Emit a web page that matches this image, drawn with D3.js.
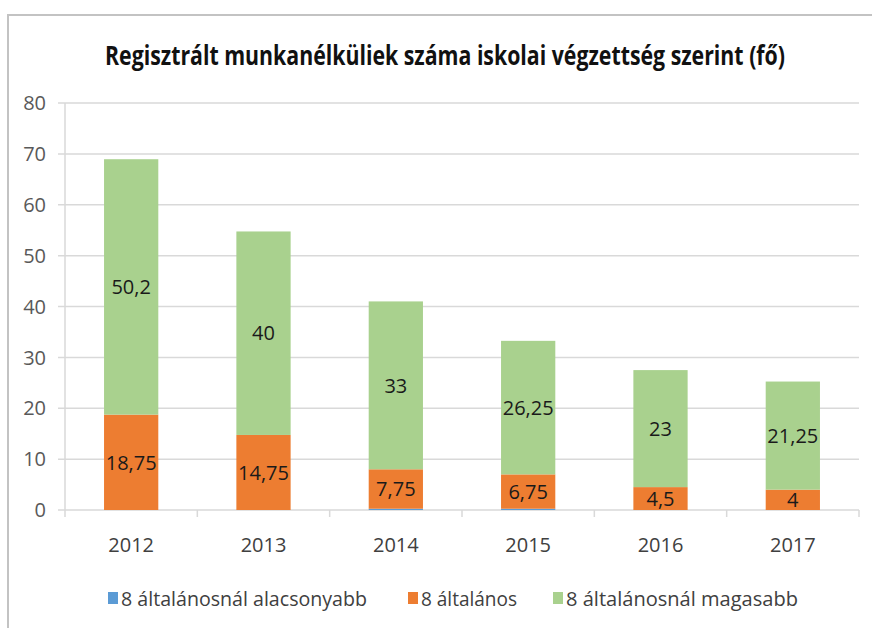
<!DOCTYPE html>
<html>
<head>
<meta charset="utf-8">
<script src="https://cdn.jsdelivr.net/npm/d3@7"></script>
<style>
  body { margin: 0; background: #fff; }
  svg { display: block; font-family: "Open Sans", sans-serif; }
</style>
</head>
<body>
<div id="chart"></div>
<script>
// Regisztrált munkanélküliek – stacked columns
const years = ["2012", "2013", "2014", "2015", "2016", "2017"];
const seriesNames = ["8 általánosnál alacsonyabb", "8 általános", "8 általánosnál magasabb"];
const alacsonyabb = [0, 0, 0.25, 0.25, 0, 0];
const altalanos = [18.75, 14.75, 7.75, 6.75, 4.5, 4];
const magasabb = [50.2, 40, 33, 26.25, 23, 21.25];
const yTicks = [0, 10, 20, 30, 40, 50, 60, 70, 80];
const colors = ["#5b9bd5", "#ed7d31", "#a9d18e"];

const width = 872;
const height = 628;
const margin = { top: 103, right: 13, bottom: 118, left: 65 };

const svg = d3.select("#chart")
    .append("svg")
    .attr("width", width)
    .attr("height", height);

// frame (only top and left edges visible in the crop)
svg.append("path")
    .attr("d", `M8,${height} V15 H${width}`)
    .attr("fill", "none")
    .attr("stroke", "#c3c3c3")
    .attr("stroke-width", 2);

svg.append("text")
    .attr("x", 445)
    .attr("y", 65)
    .attr("text-anchor", "middle")
    .attr("textLength", 680)
    .attr("lengthAdjust", "spacingAndGlyphs")
    .style("font-size", "26px")
    .style("font-weight", "bold")
    .style("fill", "#111")
    .text("Regisztrált munkanélküliek száma iskolai végzettség szerint (fő)");

const x = d3.scaleBand()
    .domain(years)
    .range([margin.left, width - margin.right]);

const y = d3.scaleLinear()
    .domain([0, 80])
    .range([height - margin.bottom, margin.top]);

// gridlines + y ticks
svg.append("g")
    .selectAll("line")
    .data(yTicks)
    .enter()
    .append("line")
    .attr("x1", margin.left - 7)
    .attr("x2", width - margin.right)
    .attr("y1", d => y(d))
    .attr("y2", d => y(d))
    .attr("stroke", "#d9d9d9")
    .attr("stroke-width", 1.5);

svg.append("g")
    .selectAll("text")
    .data(yTicks)
    .enter()
    .append("text")
    .attr("x", 46)
    .attr("y", d => y(d))
    .attr("dy", "0.36em")
    .attr("text-anchor", "end")
    .style("font-size", "20px")
    .style("fill", "#595959")
    .text(d => d);

// y axis line
svg.append("line")
    .attr("x1", margin.left)
    .attr("x2", margin.left)
    .attr("y1", y(80))
    .attr("y2", y(0) + 7)
    .attr("stroke", "#d9d9d9")
    .attr("stroke-width", 1.5);

// x axis tick marks at category boundaries
svg.append("g")
    .selectAll("line")
    .data(years)
    .enter()
    .append("line")
    .attr("x1", d => x(d) + x.step())
    .attr("x2", d => x(d) + x.step())
    .attr("y1", y(0))
    .attr("y2", y(0) + 7)
    .attr("stroke", "#d9d9d9")
    .attr("stroke-width", 1.5);

svg.append("g")
    .selectAll("text")
    .data(years)
    .enter()
    .append("text")
    .attr("x", d => x(d) + x.bandwidth() / 2)
    .attr("y", y(0) + 42)
    .attr("text-anchor", "middle")
    .style("font-size", "20px")
    .style("fill", "#404040")
    .text(d => d);

// stacked bars
const rows = years.map((yr, i) => ({
    year: yr,
    s0: alacsonyabb[i],
    s1: altalanos[i],
    s2: magasabb[i]
}));

const stack = d3.stack().keys(["s0", "s1", "s2"]);
const layers = stack(rows);
const barWidth = x.bandwidth() * 0.41;

const groups = svg.append("g")
    .selectAll("g")
    .data(layers)
    .enter()
    .append("g")
    .attr("fill", (d, i) => colors[i]);

groups.selectAll("rect")
    .data(d => d)
    .enter()
    .append("rect")
    .attr("x", d => x(d.data.year) + (x.bandwidth() - barWidth) / 2)
    .attr("width", barWidth)
    .attr("y", d => y(d[1]))
    .attr("height", d => y(d[0]) - y(d[1]));

// data labels (only the two visible series)
layers.slice(1).forEach(layer => {
    svg.append("g")
        .selectAll("text")
        .data(layer)
        .enter()
        .append("text")
        .attr("x", d => x(d.data.year) + x.bandwidth() / 2)
        .attr("y", d => y((d[0] + d[1]) / 2))
        .attr("dy", "0.36em")
        .attr("text-anchor", "middle")
        .style("font-size", "20px")
        .style("fill", "#1a1a1a")
        .text(d => String(+(d[1] - d[0]).toFixed(2)).replace(".", ","));
});

// legend
const legendItems = [
    { name: seriesNames[0], x: 108, w: 246 },
    { name: seriesNames[1], x: 408, w: 96 },
    { name: seriesNames[2], x: 553, w: 232 }
];

const legend = svg.selectAll(".legend")
    .data(legendItems)
    .enter()
    .append("g")
    .attr("class", "legend")
    .attr("transform", d => `translate(${d.x}, 592)`);

legend.append("rect")
    .attr("width", 10)
    .attr("height", 12)
    .attr("fill", (d, i) => colors[i]);

legend.append("text")
    .attr("x", 13)
    .attr("y", 14)
    .attr("textLength", d => d.w)
    .attr("lengthAdjust", "spacingAndGlyphs")
    .style("font-size", "20px")
    .style("fill", "#404040")
    .text(d => d.name);
</script>
</body>
</html>
